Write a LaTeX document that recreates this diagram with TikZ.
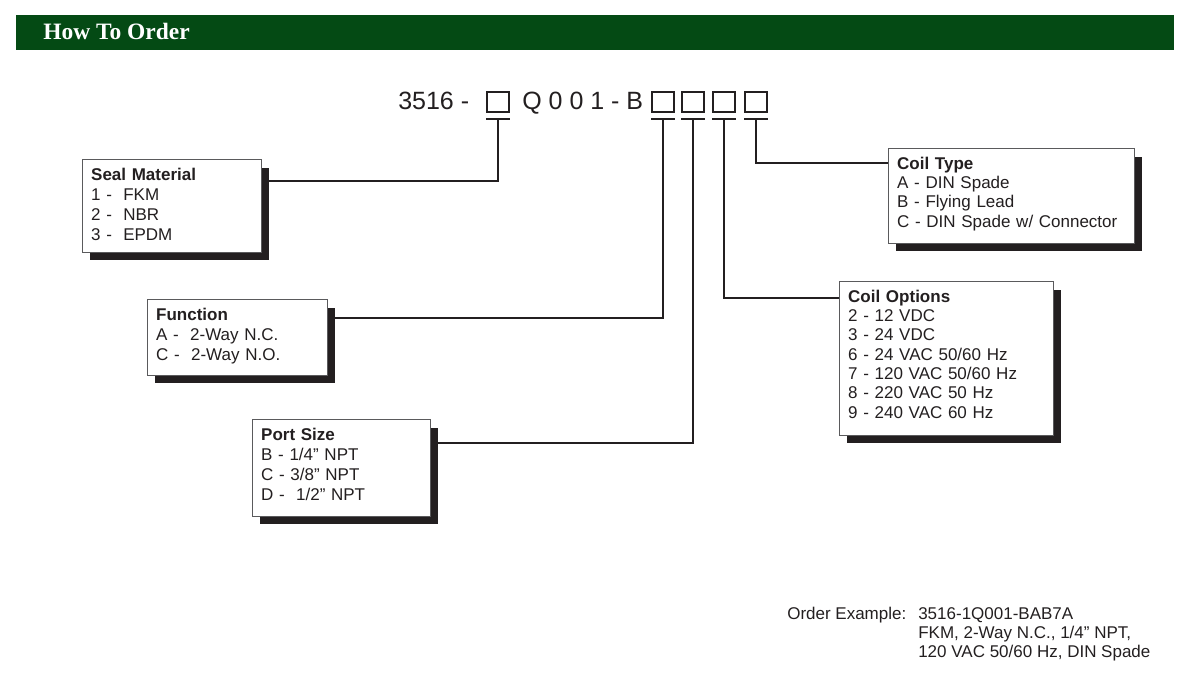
\documentclass[tikz,border=0pt]{standalone}
\usepackage{fontspec}
\setmainfont{Liberation Sans}
\newfontfamily\headfont{Liberation Serif}
\usetikzlibrary{shadows}
\definecolor{orderink}{HTML}{231F20}
\definecolor{orderframe}{HTML}{5A5A5C}
\definecolor{ordergreen}{HTML}{044A14}
\newcommand{\firstline}{\rule{0pt}{15.5pt}}
\newcommand{\lastline}[1]{\rule[-#1]{0pt}{0pt}}

\begin{document}
\begin{tikzpicture}[
  x=0.75pt,
  y=-0.75pt,
  every node/.style={orderink},
  code/.style={font=\fontsize{18.75}{22}\selectfont, anchor=base west, inner sep=0pt},
  slot/.style={draw=orderink, line width=1.1pt, minimum width=16.5pt,
               minimum height=15pt, inner sep=0pt},
  tick/.style={orderink, line width=1.5pt},
  link/.style={orderink, line width=1.5pt},
  optbox/.style={draw=orderframe, line width=0.8pt, fill=white, anchor=north west,
                 align=left, inner xsep=6.5pt, inner ysep=0pt,
                 font=\fontsize{12.75}{15}\selectfont,
                 drop shadow={shadow xshift=5.25pt, shadow yshift=-6pt,
                              fill=orderink, opacity=1}},
  optboxr/.style={optbox, font=\fontsize{12.75}{14.5}\selectfont}
]
  % ---- page size of the reference ----
  \useasboundingbox (0,0) rectangle (1191,685);

  % ---- header bar ----
  \fill[ordergreen] (16,15) rectangle (1174,50);
  \node[anchor=base west, inner sep=0pt, text=white,
        font=\headfont\bfseries\fontsize{17.6}{20}\selectfont] (title) at (43,39.5)
    {How To Order};

  % ---- part number with its open slots ----
  \node[code] (prefix) at (398,109) {3516 -};
  \node[slot] (s1) at (498,102) {};
  \node[code] (middle) at (522,109) {Q 0 0 1 - B};
  \node[slot] (s2) at (663,102) {};
  \node[slot] (s3) at (693,102) {};
  \node[slot] (s4) at (724,102) {};
  \node[slot] (s5) at (756,102) {};
  \foreach \s in {s1,s2,s3,s4,s5}
    \draw[tick] ([yshift=-4.5pt]\s.south west) -- ([yshift=-4.5pt]\s.south east);

  % ---- option boxes ----
  \node[optbox, text width=121.25pt] (seal) at (82,159)
    {\firstline\textbf{Seal Material}\\
     1 -\ \ FKM\\
     2 -\ \ NBR\\
     3 -\ \ EPDM\lastline{9pt}};
  \node[optbox, text width=122pt] (func) at (147,299)
    {\firstline\textbf{Function}\\
     A -\ \ 2-Way N.C.\\
     C -\ \ 2-Way N.O.\lastline{11.25pt}};
  \node[optbox, text width=120.5pt] (port) at (252,419)
    {\firstline\textbf{Port Size}\\
     B - 1/4” NPT\\
     C - 3/8” NPT\\
     D -\ \ 1/2” NPT\lastline{12pt}};
  \node[optboxr, text width=171.5pt] (coiltype) at (888,148)
    {\firstline\textbf{Coil Type}\\
     A - DIN Spade\\
     B - Flying Lead\\
     C - DIN Spade w/ Connector\lastline{12pt}};
  \node[optboxr, text width=147.5pt] (coilopt) at (839,281)
    {\firstline\textbf{Coil Options}\\
     2 - 12 VDC\\
     3 - 24 VDC\\
     6 - 24 VAC 50/60 Hz\\
     7 - 120 VAC 50/60 Hz\\
     8 - 220 VAC 50 Hz\\
     9 - 240 VAC 60 Hz\lastline{12.75pt}};

  % ---- leaders from slots to boxes ----
  \draw[link] ([yshift=-4.5pt]s1.south) |- ([xshift=5.25pt,yshift=-16.5pt]seal.north east);
  \draw[link] ([yshift=-4.5pt]s2.south) |- ([xshift=5.25pt,yshift=-14.25pt]func.north east);
  \draw[link] ([yshift=-4.5pt]s3.south) |- ([xshift=5.25pt,yshift=-18pt]port.north east);
  \draw[link] ([yshift=-4.5pt]s4.south) |- ([yshift=-12.75pt]coilopt.north west);
  \draw[link] ([yshift=-4.5pt]s5.south) |- ([yshift=-11.25pt]coiltype.north west);

  % ---- order example ----
  \node[anchor=base west, inner sep=0pt, font=\fontsize{12.75}{14.5}\selectfont]
    (exlabel) at (787,619) {Order Example:};
  \node[anchor=north west, inner sep=0pt, align=left,
        font=\fontsize{12.75}{14.5}\selectfont] (example) at (918,598.3)
    {\firstline 3516-1Q001-BAB7A\\
     FKM, 2-Way N.C., 1/4” NPT,\\
     120 VAC 50/60 Hz, DIN Spade};
\end{tikzpicture}
\end{document}
